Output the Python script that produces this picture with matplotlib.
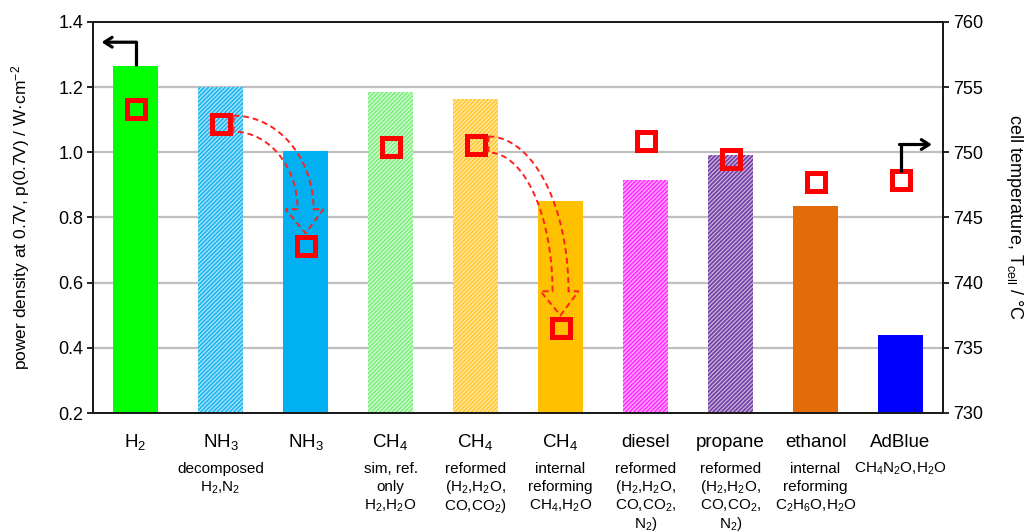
import numpy as np
import matplotlib
matplotlib.use("Agg")
import matplotlib.pyplot as plt
from matplotlib.path import Path
from matplotlib.patches import PathPatch
import matplotlib.transforms as mtransforms

plt.rcParams["font.family"] = ["Liberation Sans", "DejaVu Sans"]
plt.rcParams["mathtext.fontset"] = "custom"
plt.rcParams["mathtext.rm"] = "Liberation Sans"
plt.rcParams["mathtext.it"] = "Liberation Sans:italic"
plt.rcParams["mathtext.bf"] = "Liberation Sans:bold"
plt.rcParams["hatch.linewidth"] = 1.25

# ---- data -------------------------------------------------------------
fuels = ["H$_2$", "NH$_3$", "NH$_3$", "CH$_4$", "CH$_4$", "CH$_4$",
         "diesel", "propane", "ethanol", "AdBlue"]
details = [
    [],
    ["decomposed", "H$_2$,N$_2$"],
    [],
    ["sim, ref.", "only", "H$_2$,H$_2$O"],
    ["reformed", "(H$_2$,H$_2$O,", "CO,CO$_2$)"],
    ["internal", "reforming", "CH$_4$,H$_2$O"],
    ["reformed", "(H$_2$,H$_2$O,", "CO,CO$_2$,", "N$_2$)"],
    ["reformed", "(H$_2$,H$_2$O,", "CO,CO$_2$,", "N$_2$)"],
    ["internal", "reforming", "C$_2$H$_6$O,H$_2$O"],
    ["CH$_4$N$_2$O,H$_2$O"],
]
power_density = [1.265, 1.200, 1.004, 1.185, 1.164, 0.851, 0.915, 0.992, 0.836, 0.440]
cell_temp = [753.3, 752.2, 742.8, 750.4, 750.6, 736.5, 750.9, 749.5, 747.7, 747.9]

bar_colors = ["#00FF00", "#22B6F1", "#00B0F0", "#7DF07D", "#FFC933", "#FFC000",
              "#FF30FF", "#7440A4", "#E36C09", "#0000FF"]
face_colors = ["#00FF00", "#B5E7FA", "#00B0F0", "#DDFADD", "#FFEBB0", "#FFC000",
               "#FFB8FF", "#CDB8E0", "#E36C09", "#0000FF"]
hatched = [False, True, False, True, True, False, True, True, False, False]

# ---- figure -----------------------------------------------------------
fig = plt.figure(figsize=(10.31, 5.32), dpi=100)
ax = fig.add_axes([93 / 1031, 119 / 532, 850 / 1031, 391 / 532])
ax2 = ax.twinx()

x = np.arange(len(fuels))
for xi, h, fc, ec, hh in zip(x, power_density, face_colors, bar_colors, hatched):
    if hh:
        ax.bar(xi, h - 0.2, bottom=0.2, width=0.53, facecolor=fc, edgecolor=ec,
               hatch="/" * 8, linewidth=0, zorder=2)
    else:
        ax.bar(xi, h - 0.2, bottom=0.2, width=0.53, color=fc, linewidth=0, zorder=2)

ax.set_xlim(-0.5, len(fuels) - 0.5)
ax.set_ylim(0.2, 1.4)
ax.set_yticks(np.arange(0.2, 1.41, 0.2))
ax.set_yticklabels([f"{v:.1f}" for v in np.arange(0.2, 1.41, 0.2)])
for gy in np.arange(0.4, 1.21, 0.2):
    ax.axhline(gy, color="#BFBFBF", lw=1.6, zorder=1)
ax.set_xticks([])
ax.tick_params(axis="y", labelsize=13, length=4, width=1.2, direction="out", pad=3)
ax.set_ylabel("power density at 0.7V, p(0.7V) / W·cm$^{-2}$", fontsize=12.5, labelpad=19)

ax2.set_ylim(730, 760)
ax2.set_yticks(np.arange(730, 761, 5))
ax2.tick_params(axis="y", labelsize=13, length=4, width=1.2, direction="out", pad=3)
ax2.set_ylabel("cell temperature, T$_{\\rm cell}$ / °C", fontsize=13, rotation=270,
               labelpad=30)
for a in (ax, ax2):
    for s in a.spines.values():
        s.set_linewidth(1.3)
        s.set_color("#1a1a1a")

ax2.plot(x, cell_temp, linestyle="none", marker="s", markersize=13,
         markerfacecolor="none", markeredgecolor="#FF0000", markeredgewidth=3.6,
         zorder=5)

# ---- category labels --------------------------------------------------
base = mtransforms.blended_transform_factory(ax.transData, ax.transAxes)
for xi, name, lines in zip(x, fuels, details):
    tr = mtransforms.offset_copy(base, fig=fig, x=0, y=-34, units="dots")
    ax.text(xi, 0, name, transform=tr, ha="center", va="baseline", fontsize=13.5)
    for k, line in enumerate(lines):
        tr = mtransforms.offset_copy(base, fig=fig, x=0, y=-60 - 18.3 * k, units="dots")
        ax.text(xi, 0, line, transform=tr, ha="center", va="baseline", fontsize=11)


# ---- hollow dashed arrows between temperature markers ------------------
def hollow_arrow(i, j):
    fig.canvas.draw()
    p0 = ax2.transData.transform((x[i], cell_temp[i]))
    p1 = ax2.transData.transform((x[j], cell_temp[j]))
    sx = p0[0] + 13
    sy = p0[1]
    tip_y = p1[1] + 13
    base_y = tip_y + 24
    ex = p1[0]
    rx, ry = ex - sx, sy - base_y
    hw = 8
    t = np.linspace(0, np.pi / 2, 60)
    outer = np.c_[sx + (rx + hw) * np.sin(t), base_y + (ry + hw) * np.cos(t)]
    inner = np.c_[sx + (rx - hw) * np.sin(t), base_y + (ry - hw) * np.cos(t)]
    pts = np.vstack([outer,
                     [[ex + 18, base_y], [ex, tip_y], [ex - 20, base_y]],
                     inner[::-1],
                     [outer[0]]])
    path = Path(pts)
    patch = PathPatch(path, facecolor="none", edgecolor="#FF2020", lw=1.4,
                      linestyle=(0, (3, 2)), transform=None, zorder=4)
    fig.add_artist(patch)


hollow_arrow(1, 2)
hollow_arrow(4, 5)

# ---- axis indicator arrows --------------------------------------------
h2_top = power_density[0]
ax.plot([0, 0], [h2_top, 1.338], color="black", lw=2.3, zorder=6,
        solid_capstyle="butt")
ax.annotate("", xy=(-0.40, 1.338), xytext=(0.012, 1.338),
            arrowprops=dict(arrowstyle="->,head_length=0.55,head_width=0.35",
                            lw=2.3, color="black", shrinkA=0, shrinkB=0),
            zorder=6)
ab = len(fuels) - 1
ax2.plot([ab, ab], [cell_temp[ab] + 0.6, 750.6], color="black", lw=2.3, zorder=6,
         solid_capstyle="butt")
ax2.annotate("", xy=(ab + 0.37, 750.6), xytext=(ab - 0.012, 750.6),
             arrowprops=dict(arrowstyle="->,head_length=0.55,head_width=0.35",
                             lw=2.3, color="black", shrinkA=0, shrinkB=0),
             zorder=6)

fig.savefig("out.png", dpi=100)
